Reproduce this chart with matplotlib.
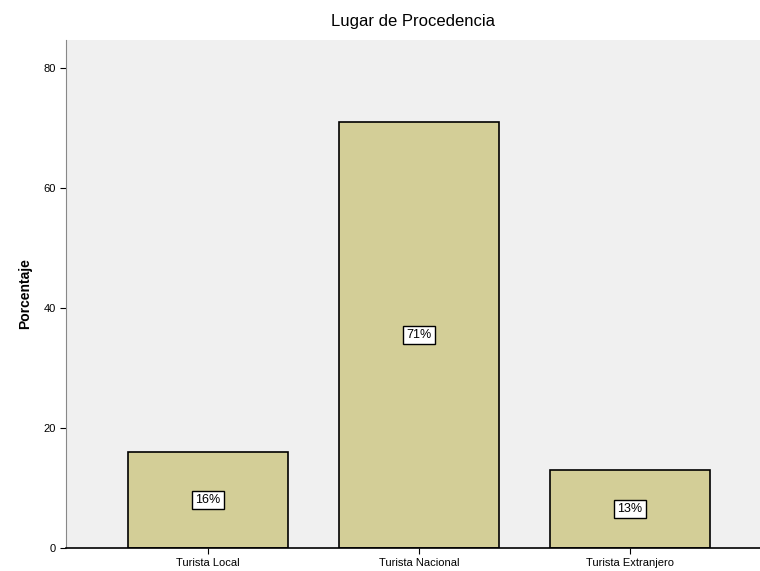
import matplotlib
matplotlib.use("Agg")
import matplotlib.pyplot as plt

plt.rcParams['font.family'] = ['Liberation Sans', 'DejaVu Sans']

# Data
categories = ["Turista Local", "Turista Nacional", "Turista Extranjero"]
percentages = [16, 71, 13]
bar_labels = ["16%", "71%", "13%"]
y_ticks = [0, 20, 40, 60, 80]

fig = plt.figure(figsize=(7.6, 5.71), dpi=100)
ax = fig.add_axes([0.0868, 0.0403, 0.9132, 0.8897])
ax.set_facecolor("#f0f0f0")

x = range(len(categories))
ax.bar(x, percentages, width=0.76, color="#d3ce97", edgecolor="black", linewidth=1.2)

for xi, v, lab in zip(x, percentages, bar_labels):
    ax.text(xi, v / 2, lab, ha="center", va="center", fontsize=9,
            bbox=dict(boxstyle="square,pad=0.25", facecolor="white", edgecolor="black", linewidth=1))

ax.set_xlim(-0.673, 2.616)
ax.set_ylim(0, 84.7)
ax.set_xticks(list(x))
ax.set_xticklabels(categories, fontsize=8)
ax.set_yticks(y_ticks)
ax.set_yticklabels([str(t) for t in y_ticks], fontsize=8)
ax.tick_params(axis="both", direction="out", length=4, width=0.8)

ax.spines["top"].set_visible(False)
ax.spines["right"].set_visible(False)
ax.spines["left"].set_color("#888888")
ax.spines["bottom"].set_linewidth(1.2)

ax.set_ylabel("Porcentaje", fontsize=10, fontweight="bold", labelpad=8)
ax.set_title("Lugar de Procedencia", fontsize=12, pad=10)

fig.savefig("out.png", dpi=100)
